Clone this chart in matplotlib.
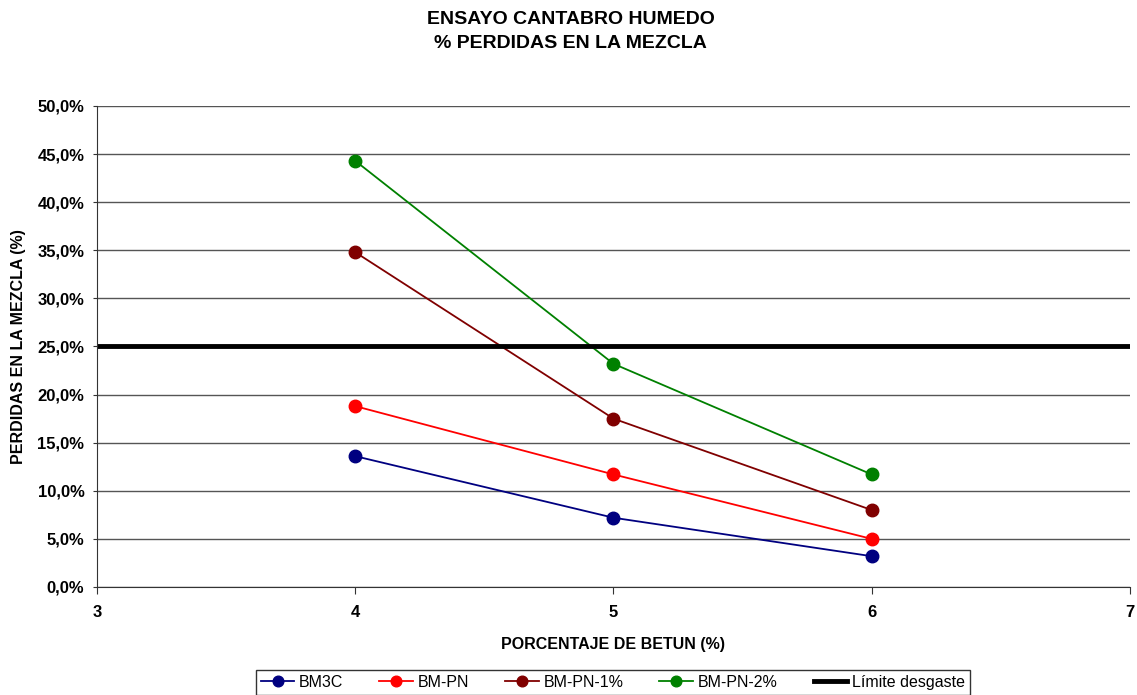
import matplotlib.pyplot as plt
from matplotlib.ticker import FuncFormatter

plt.rcParams['font.family'] = ['Liberation Sans', 'DejaVu Sans']

betun = [4, 5, 6]
bm3c = [13.6, 7.2, 3.2]
bm_pn = [18.8, 11.7, 5.0]
bm_pn_1 = [34.8, 17.5, 8.0]
bm_pn_2 = [44.3, 23.2, 11.7]
limite = 25.0

series = [
    ('BM3C', bm3c, '#000080'),
    ('BM-PN', bm_pn, '#ff0000'),
    ('BM-PN-1%', bm_pn_1, '#800000'),
    ('BM-PN-2%', bm_pn_2, '#008000'),
]

fig = plt.figure(figsize=(11.37, 6.95), dpi=100)
ax = fig.add_axes([0.0853, 0.1554, 0.9085, 0.6921])

for name, vals, col in series:
    ax.plot(betun, vals, color=col, lw=1.3, marker='o', ms=9, label=name)

ax.axhline(limite, color='black', lw=3.5, label='Límite desgaste')

ax.set_xlim(3, 7)
ax.set_ylim(0, 50)
ax.set_xticks([3, 4, 5, 6, 7])
ax.set_yticks(range(0, 51, 5))
ax.yaxis.set_major_formatter(FuncFormatter(lambda v, p: f'{v:.1f}%'.replace('.', ',')))
ax.grid(axis='y', color='#555555', lw=1)
ax.set_axisbelow(True)
for s in ['top', 'right']:
    ax.spines[s].set_visible(False)
ax.spines['left'].set_color('#333333')
ax.spines['bottom'].set_color('#333333')
ax.tick_params(axis='both', labelsize=12, color='#333333')
ax.tick_params(axis='x', length=5, pad=8)
ax.tick_params(axis='y', length=3, pad=6)
for lab in ax.get_xticklabels() + ax.get_yticklabels():
    lab.set_fontweight('bold')

ax.set_xlabel('PORCENTAJE DE BETUN (%)', fontsize=11.5, fontweight='bold', labelpad=12)
ax.set_ylabel('PERDIDAS EN LA MEZCLA (%)', fontsize=11.5, fontweight='bold', labelpad=8)
fig.suptitle('ENSAYO CANTABRO HUMEDO\n% PERDIDAS EN LA MEZCLA', fontsize=14,
             fontweight='bold', y=0.984, x=0.502, linespacing=1.55)

leg = fig.legend(loc='upper center', bbox_to_anchor=(0.539, 1 - 670 / 695), ncol=5,
                 fontsize=11.5, frameon=True, fancybox=False, handlelength=2.1,
                 handletextpad=0.3, columnspacing=2.25, borderpad=0.3,
                 borderaxespad=0, markerscale=0.85)
leg.get_frame().set_edgecolor('black')
leg.get_frame().set_linewidth(1)

fig.savefig('out.png', dpi=100)
